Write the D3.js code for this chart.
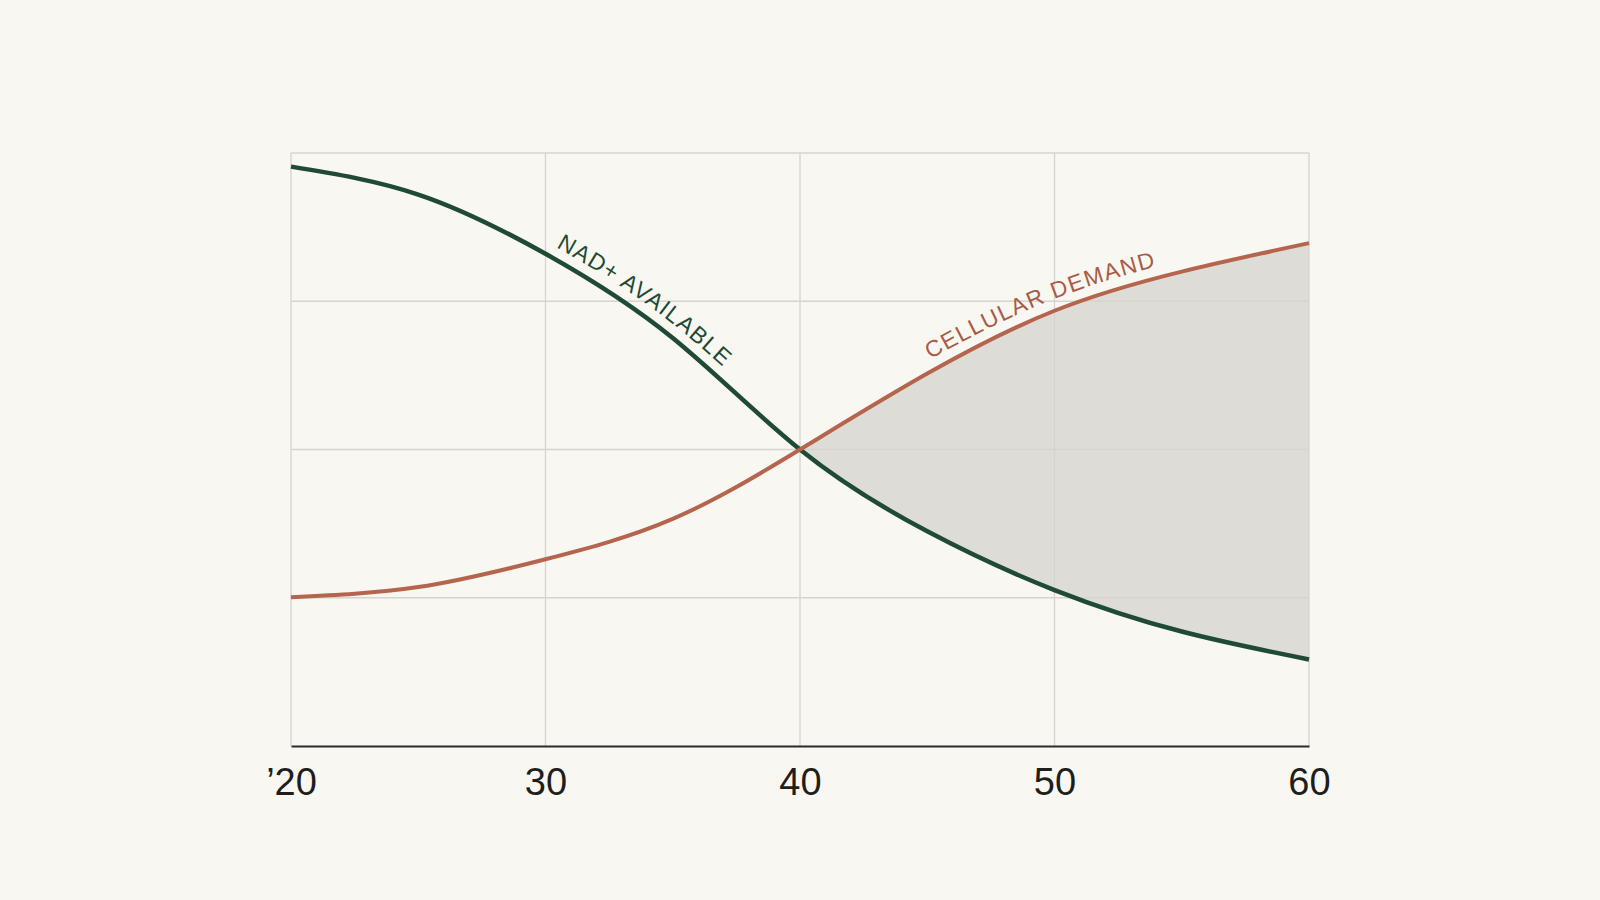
<!DOCTYPE html>
<html>
<head>
<meta charset="utf-8">
<script src="https://cdn.jsdelivr.net/npm/d3@7"></script>
<style>
  html, body { margin: 0; padding: 0; background: #f9f7f1; }
  svg { display: block; }
</style>
</head>
<body>
<div id="container"></div>
<script>
/* data: age on x, relative level on y (0-100) */
const ages = [20, 25, 30, 35, 40, 45, 50, 55, 60];
const nadAvailable = [97.7, 93.0, 83.0, 68.8, 50, 36.2, 26.3, 19.3, 14.6];
const cellularDemand = [25.1, 26.8, 31.5, 38.3, 50, 62.8, 73.4, 80.0, 84.8];
const xTicks = [20, 30, 40, 50, 60];
const xTickLabels = ["\u201920", "30", "40", "50", "60"];
const yGrid = [25, 50, 75, 100];

const width = 1600;
const height = 900;
const margin = { top: 153, right: 291, bottom: 154, left: 291 };

const svg = d3.select("#container").append("svg")
  .attr("width", width)
  .attr("height", height);

svg.append("rect").attr("width", width).attr("height", height).attr("fill", "#f9f7f1");

const x = d3.scaleLinear().domain([20, 60]).range([margin.left, width - margin.right]);
const y = d3.scaleLinear().domain([0, 100]).range([height - margin.bottom, margin.top]);

const green = ages.map((a, i) => ({ age: a, v: nadAvailable[i] }));
const red = ages.map((a, i) => ({ age: a, v: cellularDemand[i] }));

const curve = d3.curveNatural;

/* shaded gap where demand outruns supply */
const gap = ages.map((a, i) => ({ age: a, lo: nadAvailable[i], hi: cellularDemand[i] }));
svg.append("clipPath").attr("id", "rightHalf")
  .append("rect")
  .attr("x", x(40)).attr("y", 0)
  .attr("width", x(60) - x(40)).attr("height", height);
svg.append("path")
  .datum(gap)
  .attr("clip-path", "url(#rightHalf)")
  .attr("fill", "#dddcd7")
  .attr("d", d3.area()
    .x(d => x(d.age))
    .y0(d => y(d.lo))
    .y1(d => y(d.hi))
    .curve(curve));

/* grid */
const grid = svg.append("g").attr("stroke", "#d6d4ce").attr("stroke-width", 1.3);
grid.selectAll(".vg").data(xTicks).join("line")
  .attr("x1", d => x(d)).attr("x2", d => x(d))
  .attr("y1", y(100)).attr("y2", y(0));
grid.selectAll(".hg").data(yGrid).join("line")
  .attr("x1", x(20)).attr("x2", x(60))
  .attr("y1", d => y(d)).attr("y2", d => y(d));

/* x axis */
const xAxis = d3.axisBottom(x)
  .tickValues(xTicks)
  .tickFormat((d, i) => xTickLabels[i])
  .tickSize(0);
const ax = svg.append("g")
  .attr("transform", `translate(0,${y(0)})`)
  .call(xAxis);
ax.select(".domain").attr("stroke", "#2a2a28").attr("stroke-width", 2);
ax.selectAll("text")
  .attr("y", 49).attr("dy", 0)
  .attr("fill", "#1e1e1c")
  .attr("font-family", "'Liberation Sans', Arial, sans-serif")
  .attr("font-size", 38);

/* curves */
const line = d3.line().x(d => x(d.age)).y(d => y(d.v)).curve(curve);

const gPath = svg.append("path").datum(green)
  .attr("id", "nadPath")
  .attr("fill", "none").attr("stroke", "#1f4a33").attr("stroke-width", 4.5)
  .attr("d", line);

const rPath = svg.append("path").datum(red)
  .attr("id", "demandPath")
  .attr("fill", "none").attr("stroke", "#b5654d").attr("stroke-width", 4)
  .attr("d", line);

/* find length along a path where it reaches a given x */
function lengthAtX(node, px) {
  let lo = 0, hi = node.getTotalLength();
  for (let k = 0; k < 40; k++) {
    const mid = (lo + hi) / 2;
    if (node.getPointAtLength(mid).x < px) lo = mid; else hi = mid;
  }
  return lo;
}

function curveLabel(pathNode, id, text, age, color) {
  svg.append("text")
    .attr("fill", color)
    .attr("font-family", "'Liberation Sans', Arial, sans-serif")
    .attr("font-size", 23)
    .attr("letter-spacing", 1.2)
    .attr("dy", -11)
    .append("textPath")
    .attr("href", "#" + id)
    .attr("text-anchor", "middle")
    .attr("startOffset", lengthAtX(pathNode, x(age)))
    .text(text);
}

curveLabel(gPath.node(), "nadPath", "NAD+ AVAILABLE", 33.6, "#1f4a33");
curveLabel(rPath.node(), "demandPath", "CELLULAR DEMAND", 49.6, "#a85c45");
</script>
</body>
</html>
